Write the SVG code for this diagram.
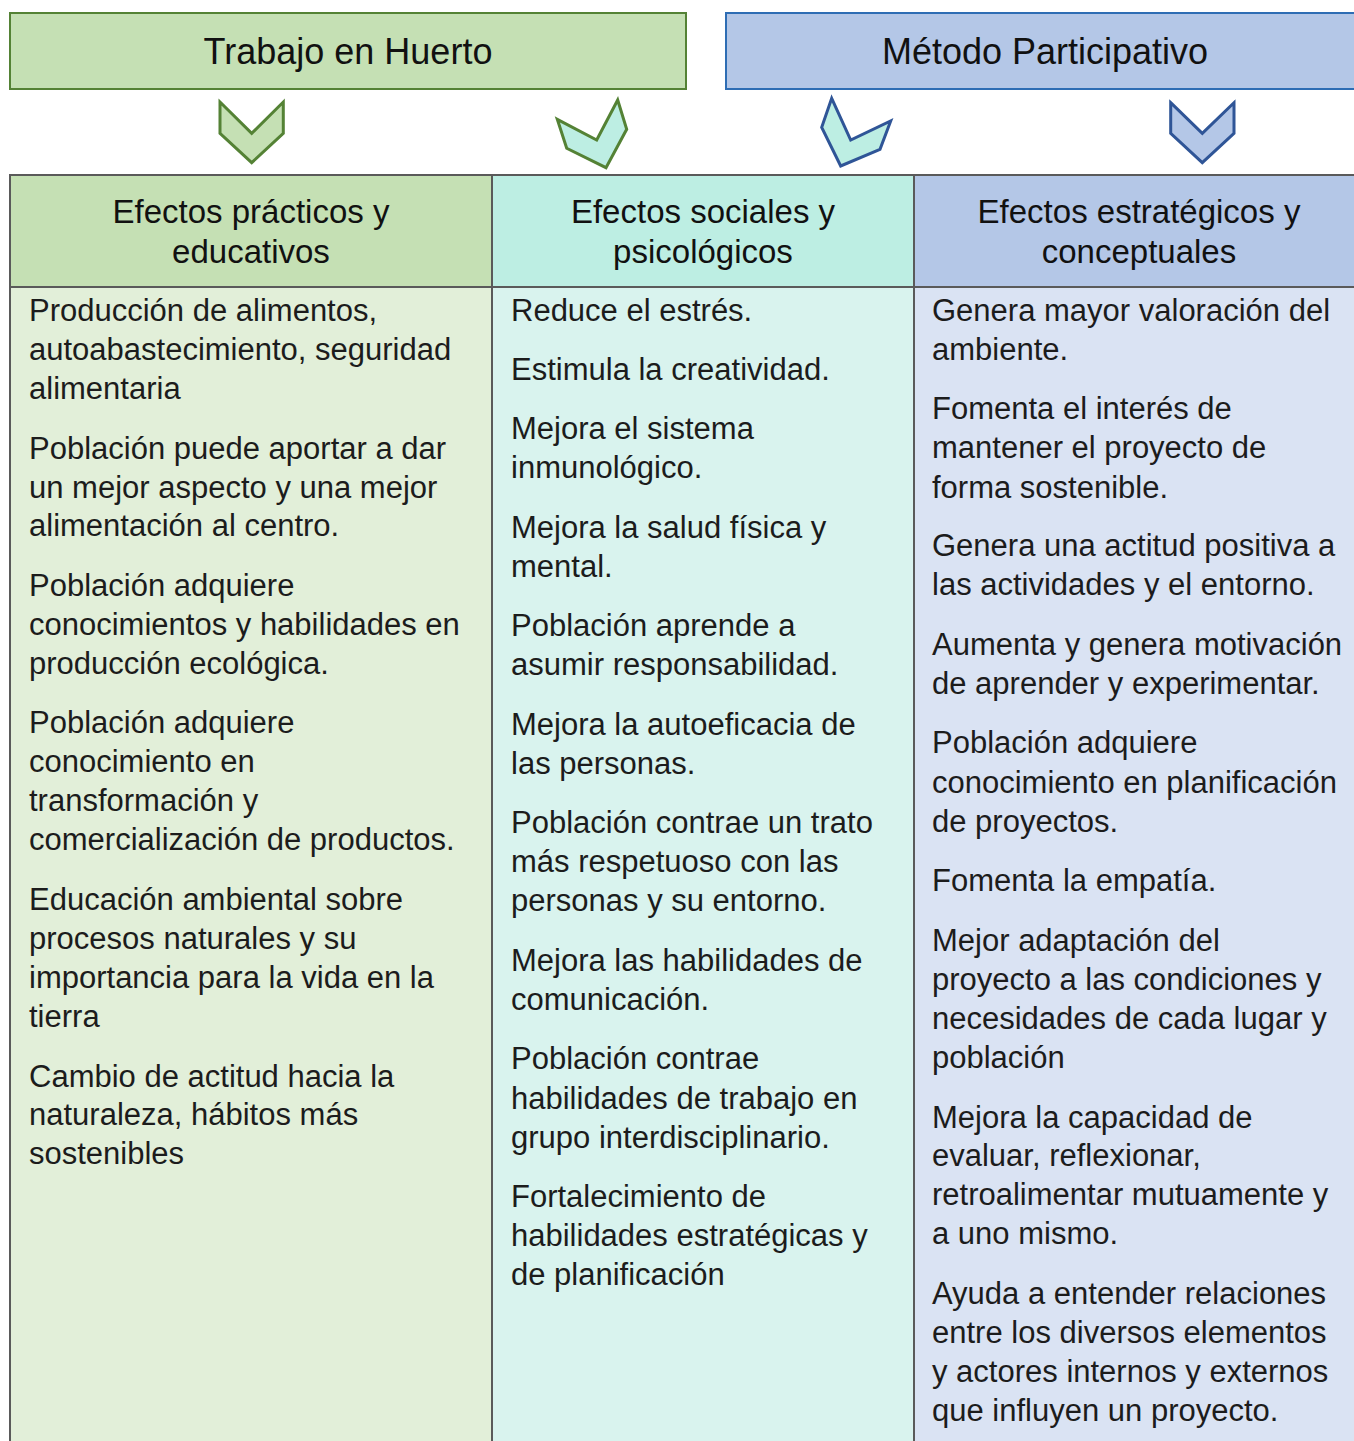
<svg xmlns="http://www.w3.org/2000/svg" width="1354" height="1441" viewBox="0 0 1354 1441">
<style>
  .title{font-family:"Liberation Sans",Arial,sans-serif;font-size:36px;fill:#111;text-anchor:middle}
  .hdr{font-family:"Liberation Sans",Arial,sans-serif;font-size:33px;fill:#111;text-anchor:middle}
  .body{font-family:"Liberation Sans",Arial,sans-serif;font-size:31px;fill:#1c1c1c}
  .grid{stroke:#5a5a5a;stroke-width:2;fill:none}
  .chevG{stroke:#548235;stroke-width:3;stroke-linejoin:miter}
  .chevB{stroke:#2f5597;stroke-width:3;stroke-linejoin:miter}
</style>
<rect width="1354" height="1441" fill="#ffffff"/>

<g id="top-huerto">
  <rect x="10" y="13" width="676" height="76" fill="#c5e0b4" stroke="#548235" stroke-width="2"/>
  <text class="title" x="348" y="64">Trabajo en Huerto</text>
</g>
<g id="top-metodo">
  <rect x="726" y="13" width="640" height="76" fill="#b4c7e7" stroke="#2e6db4" stroke-width="2"/>
  <text class="title" x="1045" y="64">Método Participativo</text>
</g>

<g id="connectors">
  <polygon class="chevG" fill="#c5e0b4" points="220,102 251.7,133.3 283.3,102 283.3,133.3 251.7,162.7 220,133.3"/>
  <polygon class="chevG" fill="#bdeee3" points="557.3,119.3 596.7,140 617.7,100 626.7,129.3 606,167.7 566.7,148.3"/>
  <polygon class="chevB" fill="#bdeee3" points="831.7,98.3 850.7,140 890.7,121 880,149.3 840.7,166 821.7,127.3"/>
  <polygon class="chevB" fill="#b4c7e7" points="1170.7,102.7 1202.3,133.3 1234,102.7 1234,133.3 1202.3,162.7 1170.7,133.3"/>
</g>

<g id="col-practicos">
  <rect x="10" y="175" width="482" height="112" fill="#c5e0b4"/>
  <rect x="10" y="287" width="482" height="1160" fill="#e2efd9"/>
  <text class="hdr" x="251" y="223">Efectos prácticos y</text>
  <text class="hdr" x="251" y="263">educativos</text>
  <text class="body" x="29">
    <tspan x="29" y="321">Producción de alimentos,</tspan>
    <tspan x="29" y="360">autoabastecimiento, seguridad</tspan>
    <tspan x="29" y="399">alimentaria</tspan>
    <tspan x="29" y="459">Población puede aportar a dar</tspan>
    <tspan x="29" y="498">un mejor aspecto y una mejor</tspan>
    <tspan x="29" y="536">alimentación al centro.</tspan>
    <tspan x="29" y="596">Población adquiere</tspan>
    <tspan x="29" y="635">conocimientos y habilidades en</tspan>
    <tspan x="29" y="674">producción ecológica.</tspan>
    <tspan x="29" y="733">Población adquiere</tspan>
    <tspan x="29" y="772">conocimiento en</tspan>
    <tspan x="29" y="811">transformación y</tspan>
    <tspan x="29" y="850">comercialización de productos.</tspan>
    <tspan x="29" y="910">Educación ambiental sobre</tspan>
    <tspan x="29" y="949">procesos naturales y su</tspan>
    <tspan x="29" y="988">importancia para la vida en la</tspan>
    <tspan x="29" y="1027">tierra</tspan>
    <tspan x="29" y="1087">Cambio de actitud hacia la</tspan>
    <tspan x="29" y="1125">naturaleza, hábitos más</tspan>
    <tspan x="29" y="1164">sostenibles</tspan>
  </text>
</g>

<g id="col-sociales">
  <rect x="492" y="175" width="422" height="112" fill="#bdeee3"/>
  <rect x="492" y="287" width="422" height="1160" fill="#d9f3ee"/>
  <text class="hdr" x="703" y="223">Efectos sociales y</text>
  <text class="hdr" x="703" y="263">psicológicos</text>
  <text class="body" x="511">
    <tspan x="511" y="321">Reduce el estrés.</tspan>
    <tspan x="511" y="380">Estimula la creatividad.</tspan>
    <tspan x="511" y="439">Mejora el sistema</tspan>
    <tspan x="511" y="478">inmunológico.</tspan>
    <tspan x="511" y="538">Mejora la salud física y</tspan>
    <tspan x="511" y="577">mental.</tspan>
    <tspan x="511" y="636">Población aprende a</tspan>
    <tspan x="511" y="675">asumir responsabilidad.</tspan>
    <tspan x="511" y="735">Mejora la autoeficacia de</tspan>
    <tspan x="511" y="774">las personas.</tspan>
    <tspan x="511" y="833">Población contrae un trato</tspan>
    <tspan x="511" y="872">más respetuoso con las</tspan>
    <tspan x="511" y="911">personas y su entorno.</tspan>
    <tspan x="511" y="971">Mejora las habilidades de</tspan>
    <tspan x="511" y="1010">comunicación.</tspan>
    <tspan x="511" y="1069">Población contrae</tspan>
    <tspan x="511" y="1109">habilidades de trabajo en</tspan>
    <tspan x="511" y="1148">grupo interdisciplinario.</tspan>
    <tspan x="511" y="1207">Fortalecimiento de</tspan>
    <tspan x="511" y="1246">habilidades estratégicas y</tspan>
    <tspan x="511" y="1285">de planificación</tspan>
  </text>
</g>

<g id="col-estrategicos">
  <rect x="914" y="175" width="450" height="112" fill="#b4c7e7"/>
  <rect x="914" y="287" width="450" height="1160" fill="#dae3f3"/>
  <text class="hdr" x="1139" y="223">Efectos estratégicos y</text>
  <text class="hdr" x="1139" y="263">conceptuales</text>
  <text class="body" x="932">
    <tspan x="932" y="321">Genera mayor valoración del</tspan>
    <tspan x="932" y="360">ambiente.</tspan>
    <tspan x="932" y="419">Fomenta el interés de</tspan>
    <tspan x="932" y="458">mantener el proyecto de</tspan>
    <tspan x="932" y="498">forma sostenible.</tspan>
    <tspan x="932" y="556">Genera una actitud positiva a</tspan>
    <tspan x="932" y="595">las actividades y el entorno.</tspan>
    <tspan x="932" y="655">Aumenta y genera motivación</tspan>
    <tspan x="932" y="694">de aprender y experimentar.</tspan>
    <tspan x="932" y="753">Población adquiere</tspan>
    <tspan x="932" y="793">conocimiento en planificación</tspan>
    <tspan x="932" y="832">de proyectos.</tspan>
    <tspan x="932" y="891">Fomenta la empatía.</tspan>
    <tspan x="932" y="951">Mejor adaptación del</tspan>
    <tspan x="932" y="990">proyecto a las condiciones y</tspan>
    <tspan x="932" y="1029">necesidades de cada lugar y</tspan>
    <tspan x="932" y="1068">población</tspan>
    <tspan x="932" y="1128">Mejora la capacidad de</tspan>
    <tspan x="932" y="1166">evaluar, reflexionar,</tspan>
    <tspan x="932" y="1205">retroalimentar mutuamente y</tspan>
    <tspan x="932" y="1244">a uno mismo.</tspan>
    <tspan x="932" y="1304">Ayuda a entender relaciones</tspan>
    <tspan x="932" y="1343">entre los diversos elementos</tspan>
    <tspan x="932" y="1382">y actores internos y externos</tspan>
    <tspan x="932" y="1421">que influyen un proyecto.</tspan>
  </text>
</g>

<g id="table-grid">
  <path class="grid" d="M10,1445 V175 H1364 M10,287 H1364 M492,175 V1445 M914,175 V1445"/>
</g>
</svg>
